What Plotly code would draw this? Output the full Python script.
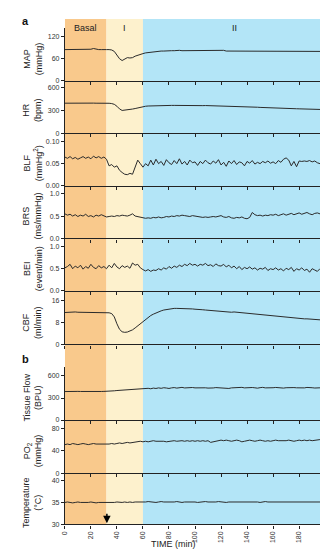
import plotly.graph_objects as go

# ---------------- data ----------------
time_min = list(range(0, 201, 2))

phase_names = ["Basal", "I", "II"]
phase_start = [0, 32, 60]
phase_end = [32, 60, 200]
phase_colors = ["#F9C98C", "#FDF1CD", "#B3E5F7"]

arrow_time = 32.3

map_mmhg = [85,85,84,85,84,85,85,85,84,85,86,88,86,85,85,84,
            85,85,84,
            80,70,60,55,60,63,62,63,67,70,72,74,
            76,77,78,79,80,80,81,81,82,82,
            82,82,83,83,82,82,83,82,82,82,
            82,82,82,82,82,82,82,83,84,84,
            83,81,81,82,82,82,82,82,82,82,
            82,82,82,81,82,82,82,82,81,81,
            81,81,82,81,81,81,81,81,81,81,
            81,81,81,81,80,81,80,80,80,80]

hr_bpm = [395,396,394,395,396,395,392,393,394,395,395,396,395,396,397,395,
          395,394,390,
          380,355,320,300,302,308,312,318,325,335,345,350,
          355,358,360,362,363,364,365,365,366,366,
          366,366,365,365,366,365,365,364,365,364,
          364,364,363,364,363,362,363,362,362,361,
          361,360,360,360,359,358,358,357,356,354,
          351,348,345,342,340,338,336,334,333,332,
          331,330,328,327,326,325,324,323,322,321,
          320,319,318,317,316,315,314,313,312,311]

blf = [0.065,0.062,0.066,0.061,0.064,0.060,0.063,0.066,0.062,0.065,0.061,0.067,0.063,0.066,0.062,0.065,
       0.060,0.045,0.048,0.042,0.045,0.035,0.030,0.026,0.025,0.028,0.026,0.040,0.058,0.050,0.042,
       0.050,0.045,0.058,0.047,0.060,0.050,0.055,0.046,0.059,0.052,
       0.048,0.057,0.050,0.061,0.049,0.055,0.047,0.058,0.052,0.054,
       0.046,0.055,0.050,0.058,0.052,0.049,0.056,0.051,0.059,0.047,
       0.053,0.044,0.056,0.050,0.057,0.048,0.054,0.052,0.045,0.055,
       0.051,0.057,0.049,0.053,0.050,0.055,0.052,0.056,0.051,0.054,
       0.050,0.057,0.053,0.060,0.063,0.058,0.045,0.055,0.043,0.056,
       0.055,0.056,0.055,0.057,0.054,0.056,0.052,0.050,0.054,0.056]

brs = [0.55,0.52,0.54,0.50,0.53,0.49,0.52,0.50,0.54,0.49,0.51,0.48,0.52,0.50,0.53,0.50,
       0.48,0.49,0.50,0.49,0.51,0.50,0.52,0.51,0.50,0.52,0.55,0.50,0.49,0.48,0.46,
       0.45,0.46,0.45,0.47,0.46,0.48,0.46,0.47,0.49,0.48,
       0.50,0.49,0.51,0.50,0.52,0.51,0.50,0.49,0.51,0.50,
       0.49,0.48,0.47,0.48,0.47,0.48,0.49,0.48,0.50,0.51,
       0.48,0.47,0.49,0.46,0.45,0.47,0.46,0.48,0.45,0.44,
       0.47,0.58,0.53,0.51,0.52,0.50,0.52,0.51,0.53,0.52,
       0.54,0.51,0.53,0.55,0.52,0.54,0.56,0.53,0.55,0.57,
       0.54,0.56,0.58,0.55,0.53,0.56,0.57,0.55,0.56,0.55]

bei = [0.52,0.55,0.60,0.50,0.56,0.52,0.58,0.49,0.55,0.51,0.60,0.53,0.50,0.57,0.52,0.55,
       0.50,0.58,0.52,0.62,0.54,0.50,0.57,0.53,0.56,0.51,0.63,0.58,0.60,0.52,0.48,
       0.45,0.48,0.44,0.47,0.46,0.50,0.47,0.52,0.49,0.55,
       0.51,0.56,0.53,0.58,0.55,0.60,0.57,0.62,0.58,0.60,
       0.56,0.60,0.58,0.62,0.57,0.59,0.55,0.61,0.57,0.56,
       0.60,0.54,0.58,0.52,0.56,0.50,0.55,0.48,0.53,0.50,
       0.54,0.49,0.52,0.47,0.51,0.49,0.53,0.46,0.50,0.48,
       0.52,0.47,0.50,0.45,0.51,0.48,0.53,0.44,0.50,0.47,
       0.52,0.46,0.49,0.42,0.50,0.47,0.44,0.50,0.46,0.48]

cbf = [11.6,11.7,11.6,11.7,11.8,11.7,11.7,11.6,11.7,11.7,11.6,11.7,11.6,11.7,11.6,11.6,
       11.6,11.5,11.2,10.0,7.5,5.5,4.6,4.4,4.5,4.8,5.3,6.0,6.8,7.6,8.4,
       9.2,9.9,10.5,11.0,11.5,11.9,12.2,12.5,12.7,12.9,
       13.0,13.1,13.1,13.1,13.1,13.0,13.0,12.9,12.9,12.8,
       12.8,12.7,12.6,12.5,12.4,12.3,12.2,12.1,12.0,11.9,
       11.8,11.8,11.7,11.7,11.8,11.7,11.6,11.6,11.5,11.5,
       11.4,11.3,11.2,11.1,11.0,10.9,10.8,10.7,10.6,10.5,
       10.4,10.3,10.2,10.1,10.0,9.9,9.8,9.7,9.6,9.5,
       9.4,9.3,9.3,9.2,9.1,9.1,9.0,9.0,8.9,8.8]

tissue_flow = [388,390,387,389,388,390,389,388,387,389,390,388,389,387,389,390,
               390,392,395,398,402,405,408,412,415,418,420,418,422,420,425,
               428,432,426,435,430,438,432,440,436,430,
               438,442,435,440,445,437,441,436,443,438,
               440,436,444,439,435,441,437,442,438,436,
               432,425,430,438,442,436,440,445,438,441,
               437,443,439,434,441,445,438,442,436,440,
               444,438,441,435,440,443,437,442,439,436,
               441,438,444,437,440,436,442,439,443,445]

po2 = [51,52,51,53,52,51,52,53,52,51,52,53,52,52,51,52,
       51,52,53,52,53,54,53,54,55,54,55,56,56,57,56,
       57,56,57,58,57,57,58,57,56,57,
       57,58,57,58,58,57,58,57,58,57,
       58,57,58,57,58,55,56,58,58,59,
       58,59,58,57,58,59,58,56,57,58,
       59,58,57,58,59,58,57,58,57,58,
       59,58,58,57,58,59,58,57,58,59,
       58,59,58,59,58,59,59,60,60,61]

temperature = [35.0,35.1,35.0,34.9,35.0,35.1,35.0,35.0,34.9,35.0,35.1,35.0,34.9,35.0,35.0,34.9,
               35.0,34.9,35.0,35.0,35.1,35.0,35.0,35.1,35.0,35.1,35.0,35.1,35.1,35.0,35.1,
               35.1,35.2,35.1,35.1,35.0,35.1,35.2,35.1,35.1,35.0,
               35.1,35.1,35.2,35.1,35.0,35.1,35.1,35.2,35.1,35.1,
               35.0,35.1,35.1,35.2,35.1,35.1,35.0,35.1,35.2,35.1,
               35.1,35.0,35.1,35.1,35.2,35.1,35.1,35.1,35.2,35.1,
               35.1,35.2,35.1,35.1,35.0,35.1,35.2,35.1,35.1,35.1,
               35.2,35.1,35.1,35.2,35.1,35.1,35.1,35.2,35.1,35.1,
               35.1,35.2,35.1,35.1,35.2,35.1,35.1,35.2,35.1,35.1]

panel_titles = ["MAP<br>(mmHg)", "HR<br>(bpm)", "BLF<br>(mmHg<sup>2</sup>)", "BRS<br>(ms/mmHg)",
                "BEI<br>(event/min)", "CBF<br>(ml/min)", "Tissue Flow<br>(BPU)",
                "PO<sub>2</sub><br>(mmHg)", "Temperature<br>(°C)"]
panel_ticks = [[0, 60, 120], [0, 300, 600], [0.00, 0.05, 0.10], [0.0, 0.5, 1.0], [0.0, 0.5, 1.0],
               [0, 8, 16], [0, 300, 600], [0, 40, 80], [30, 35, 40]]
panel_ticktext = [["0", "60", "120"], ["0", "300", "600"], ["0.00", "0.05", "0.10"],
                  ["0.0", "0.5", "1.0"], ["0.0", "0.5", "1.0"], ["0", "8", "16"],
                  ["0", "300", "600"], ["0", "40", "80"], ["30", "35", "40"]]
series = [map_mmhg, hr_bpm, blf, brs, bei, cbf, tissue_flow, po2, temperature]
x_ticks = list(range(0, 201, 20))

# ---------------- layout geometry (pixels) ----------------
W, H = 328, 550
X_LEFT, X_RIGHT = 54, 320
# (panel top px, panel bottom px, top-tick px)
geom = [(20, 73, 29), (73, 126, 80), (126, 178.7, 134.3), (178.7, 231.7, 186.7),
        (231.7, 284.3, 240), (284.3, 338.3, 294), (361, 414.3, 370), (414.3, 467.7, 422.7),
        (467.7, 519.3, 475)]
BAND_TOP, BAND_BOTTOM = 11, 519.3


def py(p):
    return 1 - p / H


LINE = "#2b2b2b"
AX = "#222222"
FONT = "Liberation Sans, Arial, sans-serif"

fig = go.Figure()
layout = dict(width=W, height=H, margin=dict(l=0, r=0, t=0, b=0),
              paper_bgcolor="white", plot_bgcolor="rgba(0,0,0,0)", showlegend=False,
              font=dict(family=FONT, color="#222"))

annotations = []
for i, (vals, ticks, ttxt, title, (top, bot, tpx)) in enumerate(
        zip(series, panel_ticks, panel_ticktext, panel_titles, geom)):
    n = i + 1
    xa = "x" if n == 1 else f"x{n}"
    ya = "y" if n == 1 else f"y{n}"
    lo, hi_tick = ticks[0], ticks[-1]
    hi = lo + (hi_tick - lo) * (bot - top) / (bot - tpx)
    fig.add_trace(go.Scatter(x=time_min, y=vals, mode="lines",
                             line=dict(color=LINE, width=1), xaxis=xa, yaxis=ya,
                             hoverinfo="skip"))
    last = (n == len(series))
    layout["xaxis" if n == 1 else f"xaxis{n}"] = dict(
        domain=[X_LEFT / W, X_RIGHT / W], anchor=ya, range=[0, 200],
        showline=True, linecolor=AX, linewidth=1.2, ticks="outside", ticklen=3,
        tickwidth=1, tickcolor=AX, tickvals=x_ticks, showticklabels=last,
        tickangle=-90, tickfont=dict(size=7, color="#333"), showgrid=False,
        zeroline=False, **({} if n == 1 else {"matches": "x"}))
    layout["yaxis" if n == 1 else f"yaxis{n}"] = dict(
        domain=[py(bot), py(top)], anchor=xa, range=[lo, hi], showline=True,
        linecolor=AX, linewidth=1, ticks="outside", ticklen=3, tickwidth=1,
        tickcolor=AX, tickvals=ticks, ticktext=ttxt,
        tickfont=dict(size=7, color="#333"), showgrid=False, zeroline=False)
    annotations.append(dict(text=title, xref="paper", yref="paper",
                            x=21 / W, y=py((tpx + bot) / 2), textangle=-90,
                            showarrow=False, font=dict(size=9, color="#222"),
                            xanchor="center", yanchor="middle"))

shapes = []
for name, s, e, c in zip(phase_names, phase_start, phase_end, phase_colors):
    shapes.append(dict(type="rect", xref="x", yref="paper", x0=s, x1=e,
                       y0=py(BAND_BOTTOM), y1=py(BAND_TOP), fillcolor=c,
                       line=dict(width=0), layer="below"))
    annotations.append(dict(text=name, xref="x", yref="paper", x=(s + e) / 2,
                            y=py(20), showarrow=False, font=dict(size=9, color="#222"),
                            xanchor="center", yanchor="middle"))

annotations += [
    dict(text="<b>a</b>", xref="paper", yref="paper", x=14 / W, y=py(13), showarrow=False,
         font=dict(size=11, color="#111"), xanchor="center", yanchor="middle"),
    dict(text="<b>b</b>", xref="paper", yref="paper", x=14 / W, y=py(353), showarrow=False,
         font=dict(size=11, color="#111"), xanchor="center", yanchor="middle"),
    dict(text="TIME (min)", xref="paper", yref="paper", x=165 / W, y=py(539),
         showarrow=False, font=dict(size=9, color="#222"), xanchor="center",
         yanchor="middle"),
    dict(text="", xref="x9", yref="paper", x=arrow_time, y=py(518), ax=0, ay=-11,
         showarrow=True, arrowhead=2, arrowsize=1, arrowwidth=1.5, arrowcolor="#000"),
]

layout["shapes"] = shapes
layout["annotations"] = annotations
fig.update_layout(**layout)
fig.write_html("out.html")
